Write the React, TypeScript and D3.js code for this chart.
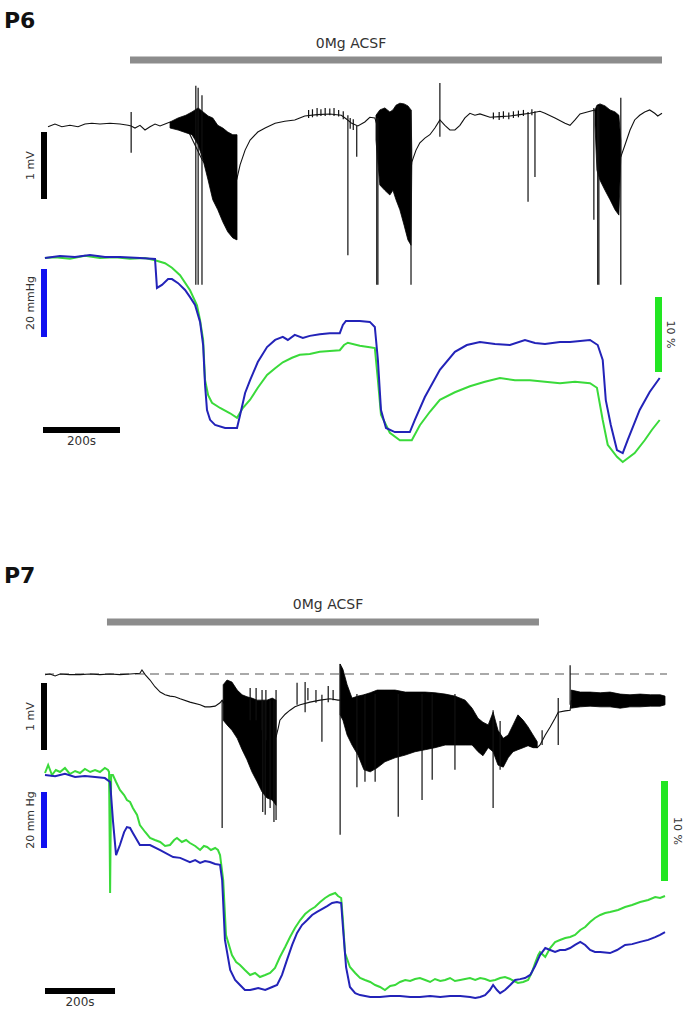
import React from 'react'
import * as d3 from 'd3'

const width = 695
const height = 1023

// ---------- P6 ----------
// time in s, EEG in mV, pO2 in mmHg (relative to baseline), sat in % (relative)
const p6Duration = 1608
const p6Acsf = [226, 1608]

const p6Eeg = [
    [13, -0.01], [31, 0.03], [49, -0.01], [70, 0.01], [91, -0.01], [109, 0.03], [127, 0.04],
    [148, 0.03], [174, 0.04], [200, 0.03], [221, 0.01], [229, 0], [239, -0.03], [252, 0.01],
    [265, -0.06], [278, -0.01], [291, 0.03], [304, 0], [317, 0.03], [330, 0.06], [371, 0.0],
    [413, -0.5], [454, -0.8], [493, -1.0], [504, -0.78], [512, -0.58], [525, -0.36],
    [538, -0.21], [558, -0.09], [577, -0.03], [603, 0.04], [628, 0.07], [654, 0.09],
    [667, 0.12], [680, 0.15], [712, 0.17], [745, 0.18], [775, 0.16], [789, 0.1], [802, 0.04],
    [818, 0.0], [836, 0.06], [849, 0.13], [862, 0.12], [900, -0.6], [950, -1.0], [958, -0.54],
    [969, -0.36], [979, -0.25], [992, -0.18], [1005, -0.13], [1018, -0.03], [1031, 0.09],
    [1044, 0.01], [1057, -0.06], [1070, -0.06], [1083, 0.01], [1096, 0.12], [1109, 0.19],
    [1122, 0.16], [1135, 0.18], [1161, 0.13], [1187, 0.14], [1213, 0.15], [1239, 0.17],
    [1265, 0.19], [1291, 0.22], [1304, 0.19], [1330, 0.12], [1356, 0.04], [1369, 0.01],
    [1382, 0.09], [1395, 0.18], [1421, 0.22], [1434, 0.24], [1460, -0.8], [1501, -0.46],
    [1512, -0.28], [1525, -0.06], [1537, 0.09], [1550, 0.16], [1563, 0.21], [1576, 0.24],
    [1589, 0.19], [1597, 0.15], [1608, 0.19],
]

// burst envelopes: [t, upper mV, lower mV]
const p6Bursts = [
    [
        [330, 0.06, -0.03], [351, 0.12, -0.06], [371, 0.16, -0.1], [387, 0.21, -0.13],
        [403, 0.27, -0.28], [416, 0.21, -0.51], [429, 0.15, -0.81], [441, 0.12, -1.1],
        [454, 0.01, -1.25], [467, -0.03, -1.43], [480, -0.09, -1.58], [493, -0.13, -1.67],
        [504, -0.13, -1.7],
    ],
    [
        [865, 0.16, -0.21], [875, 0.24, -0.88], [888, 0.27, -0.96], [901, 0.21, -1.03],
        [909, 0.24, -0.96], [917, 0.31, -1.1], [927, 0.34, -1.25], [938, 0.33, -1.48],
        [948, 0.3, -1.7], [956, 0.24, -1.78], [958, -0.36, -0.58],
    ],
    [
        [1434, 0.24, 0.01], [1439, 0.31, -0.66], [1447, 0.33, -0.81], [1460, 0.3, -0.96],
        [1473, 0.24, -1.1], [1486, 0.21, -1.25], [1496, 0.16, -1.33], [1501, -0.21, -0.46],
    ],
]

// single spikes: [t, top mV, bottom mV]
const p6Spikes = [
    [229, 0.21, -0.4], [397, 0.6, -2.37], [403, 0.57, -2.37], [413, 0.46, -2.37],
    [690, 0.24, 0.12], [700, 0.25, 0.13], [712, 0.27, 0.14], [722, 0.25, 0.15],
    [733, 0.27, 0.15], [745, 0.26, 0.16], [756, 0.27, 0.15], [768, 0.24, 0.14],
    [780, 0.22, 0.1], [798, 0.12, -0.04], [806, 0.1, -0.06],
    [792, 0.16, -1.93], [815, 0.0, -0.46], [867, 0.12, -2.37], [870, 0.12, -2.37],
    [956, 0.24, -2.37], [1031, 0.64, -0.16],
    [1170, 0.2, 0.1], [1185, 0.21, 0.09], [1196, 0.22, 0.11], [1210, 0.2, 0.1],
    [1222, 0.22, 0.12], [1235, 0.23, 0.13], [1248, 0.24, 0.15], [1270, 0.25, 0.16],
    [1260, 0.21, -1.13], [1278, 0.22, -0.76],
    [1431, 0.27, -1.4], [1441, 0.3, -2.37], [1444, 0.3, -2.37], [1501, 0.42, -2.37],
]

const p6PO2 = [
    [5, 0], [44, 0.6], [83, 0.3], [122, 0.9], [161, 0.3], [200, 0.3], [252, 0], [291, -0.3],
    [296, -8.8], [309, -7.9], [325, -6.2], [335, -6.2], [351, -7.4], [369, -9.4], [382, -11.5],
    [395, -13.8], [408, -18.8], [416, -25.6], [421, -37.4], [426, -44.7], [434, -47.6],
    [447, -49.1], [473, -50], [504, -50], [512, -46.2], [525, -39.7], [538, -35.9],
    [558, -30.6], [582, -26.2], [603, -24.1], [623, -23.2], [636, -24.1], [654, -22.6],
    [675, -23.5], [693, -22.9], [719, -22.4], [745, -22.1], [771, -22.1], [779, -19.7],
    [787, -18.5], [823, -18.5], [849, -18.8], [862, -20.3], [870, -30], [878, -44.7],
    [891, -50], [914, -51.2], [953, -51.2], [966, -47.6], [992, -40.9], [1031, -32.9],
    [1070, -27.6], [1101, -25.6], [1135, -24.7], [1174, -25.3], [1213, -25.6], [1252, -24.1],
    [1278, -25], [1304, -25.3], [1343, -24.7], [1369, -24.7], [1421, -24.1], [1441, -25.6],
    [1454, -30], [1462, -41.8], [1475, -49.1], [1491, -56.5], [1506, -57.4], [1519, -53.5],
    [1550, -44.7], [1576, -39.4], [1602, -35.3],
]

const p6Sat = [
    [5, 0], [31, 0.1], [70, -0.1], [109, 0.3], [148, 0], [187, 0.1], [226, -0.1], [265, 0],
    [291, -0.3], [317, -0.7], [335, -1.3], [356, -2.3], [382, -4.3], [400, -6.3], [408, -8.3],
    [416, -10.9], [421, -16.3], [429, -18.3], [439, -19.3], [460, -20], [486, -20.7],
    [504, -21.3], [519, -20], [538, -18.9], [558, -17.3], [582, -15.6], [603, -14.7],
    [623, -13.9], [647, -13.3], [667, -12.9], [693, -12.8], [719, -12.5], [745, -12.4],
    [771, -12.3], [782, -11.6], [792, -11.3], [823, -11.7], [849, -11.9], [862, -12],
    [870, -16.3], [878, -20.9], [901, -23.3], [927, -24.3], [958, -24.3], [979, -22.3],
    [1005, -20.5], [1031, -18.9], [1070, -17.9], [1109, -17.1], [1148, -16.5], [1187, -16],
    [1226, -16.3], [1265, -16.3], [1304, -16.5], [1343, -16.7], [1382, -16.5], [1421, -16.7],
    [1439, -17.3], [1454, -21.6], [1467, -24.9], [1491, -26.5], [1506, -27.2], [1537, -26],
    [1563, -24.3], [1582, -22.9], [1602, -21.6],
]

// ---------- P7 ----------
const p7Duration = 1771
const p7Acsf = [177, 1411]

const p7Eeg = [
    [0, -0.01], [14, 0], [29, -0.03], [43, 0], [71, -0.01], [100, -0.01], [129, 0], [157, -0.01],
    [186, 0], [214, -0.01], [243, 0], [271, 0.01], [277, 0.06], [286, -0.01], [300, -0.09],
    [314, -0.19], [329, -0.27], [343, -0.31], [357, -0.33], [371, -0.34], [386, -0.37],
    [414, -0.42], [443, -0.46], [457, -0.49], [471, -0.49], [486, -0.48], [500, -0.43],
    [506, -0.39], [580, -1.0], [660, -0.94], [666, -0.81], [671, -0.69], [686, -0.6],
    [700, -0.54], [714, -0.49], [729, -0.46], [757, -0.42], [786, -0.39], [814, -0.37],
    [837, -0.39], [843, -0.39], [1100, -0.7], [1406, -1.1], [1414, -1.06], [1429, -0.91],
    [1443, -0.79], [1457, -0.66], [1466, -0.57], [1486, -0.55], [1500, -0.54], [1503, -0.4],
    [1771, -0.37],
]

const p7Bursts = [
    [
        [509, -0.16, -0.69], [520, -0.09, -0.76], [534, -0.12, -0.84], [549, -0.24, -0.96],
        [563, -0.31, -1.13], [577, -0.34, -1.28], [591, -0.36, -1.46], [606, -0.39, -1.61],
        [620, -0.39, -1.76], [634, -0.39, -1.85], [649, -0.36, -1.88], [660, -0.39, -1.96],
    ],
    [
        [843, 0.15, -0.61], [851, 0.07, -0.69], [863, -0.16, -0.91], [877, -0.36, -1.06],
        [894, -0.33, -1.21], [911, -0.31, -1.43], [929, -0.28, -1.46], [949, -0.24, -1.4],
        [971, -0.24, -1.31], [1000, -0.24, -1.25], [1029, -0.27, -1.21], [1057, -0.27, -1.16],
        [1086, -0.27, -1.13], [1114, -0.28, -1.1], [1143, -0.3, -1.06], [1171, -0.33, -1.06],
        [1200, -0.39, -1.06], [1220, -0.51, -1.06], [1237, -0.66, -1.16], [1251, -0.72, -1.22],
        [1266, -0.76, -1.1], [1280, -0.57, -1.16], [1294, -0.84, -1.36], [1309, -0.96, -1.39],
        [1323, -0.91, -1.25], [1337, -0.76, -1.16], [1351, -0.61, -1.13], [1366, -0.69, -1.1],
        [1380, -0.79, -1.07], [1394, -0.91, -1.1], [1406, -1.01, -1.1],
    ],
    [
        [1503, -0.24, -0.51], [1529, -0.27, -0.49], [1557, -0.27, -0.48], [1586, -0.28, -0.49],
        [1614, -0.27, -0.49], [1643, -0.3, -0.51], [1671, -0.31, -0.49], [1700, -0.3, -0.49],
        [1729, -0.31, -0.48], [1757, -0.31, -0.48], [1771, -0.33, -0.46],
    ],
]

const p7Spikes = [
    [506, -0.39, -2.3], [586, -0.21, -0.69], [603, -0.21, -0.69], [620, -0.24, -0.84],
    [631, -0.24, -0.99], [622, -0.39, -2.06], [629, -0.39, -2.1], [643, -0.39, -2.0],
    [654, -0.39, -2.21], [660, -0.24, -2.18], [720, -0.13, -0.46], [743, -0.12, -0.57],
    [751, -0.21, -0.39], [774, -0.24, -0.43], [791, -0.31, -1.01], [809, -0.18, -0.42],
    [823, -0.24, -0.39], [843, 0.15, -2.4], [891, -0.3, -1.69], [914, -0.3, -1.61],
    [943, -0.3, -1.61], [1009, -0.3, -2.13], [1077, -0.3, -1.88], [1106, -0.3, -1.58],
    [1171, -0.3, -1.43], [1280, -0.54, -2.0], [1300, -0.7, -1.43], [1420, -0.84, -1.06],
    [1466, -0.36, -1.06], [1500, 0.13, -0.46],
]

const p7PO2 = [
    [0, 0], [29, -0.4], [57, 0.4], [86, -0.7], [114, -0.4], [143, -0.7], [171, -1.1],
    [186, -2.5], [194, -16.1], [203, -28.6], [214, -25], [226, -20.4], [234, -18.6],
    [243, -18.9], [251, -20.7], [271, -25], [300, -25], [329, -26.8], [366, -29.3],
    [386, -29.6], [414, -31.1], [429, -30.4], [443, -31.4], [457, -30.7], [471, -31.1],
    [486, -31.8], [500, -32.1], [506, -37.5], [514, -58.9], [529, -69.6], [543, -73.2],
    [557, -75], [571, -76.8], [586, -76.8], [609, -76.1], [629, -76.8], [649, -75.7],
    [663, -75], [677, -71.4], [691, -66.1], [706, -60.7], [720, -56.4], [734, -53.6],
    [749, -51.8], [763, -50], [777, -48.9], [791, -47.9], [806, -46.8], [820, -45.7],
    [834, -45.4], [846, -45.7], [851, -54.3], [860, -68.6], [871, -75.7], [886, -77.9],
    [900, -78.6], [929, -79.3], [957, -79.3], [986, -78.9], [1014, -78.9], [1043, -79.3],
    [1071, -79.3], [1100, -78.9], [1129, -79.3], [1157, -78.9], [1186, -78.9], [1214, -79.3],
    [1229, -79.6], [1243, -79.3], [1257, -78.6], [1271, -76.8], [1280, -75], [1291, -76.8],
    [1300, -77.9], [1314, -76.8], [1329, -75], [1343, -73.2], [1357, -72.9], [1371, -72.5],
    [1386, -71.4], [1400, -68.2], [1414, -64.3], [1429, -61.8], [1443, -62.5], [1457, -63.2],
    [1471, -62.5], [1486, -62.5], [1500, -61.8], [1514, -60.7], [1529, -59.6], [1543, -60.7],
    [1557, -62.5], [1571, -63.2], [1586, -63.2], [1614, -63.6], [1634, -62.5], [1657, -60.7],
    [1677, -60.4], [1700, -59.6], [1723, -58.9], [1743, -57.9], [1757, -57.1], [1771, -56.1],
]

const p7Sat = [
    [0, 0], [9, 0.8], [20, -0.2], [31, 0.3], [43, 0.1], [57, 0.5], [71, -0.1], [86, 0.2],
    [100, 0], [114, 0.4], [129, 0.1], [143, 0.3], [157, 0.1], [171, 0.5], [180, 0.3],
    [183, 0.1], [186, -12], [189, -0.2], [194, -0.2], [203, -0.9], [214, -1.7], [226, -2.2],
    [234, -2.7], [243, -2.9], [251, -3.5], [263, -4.2], [271, -5.2], [286, -5.9], [300, -6.5],
    [314, -6.7], [329, -6.9], [343, -7.3], [357, -7.2], [369, -6.7], [377, -6.5], [391, -6.9],
    [403, -6.7], [414, -7], [429, -7.3], [443, -7.7], [454, -7.3], [463, -7.4], [474, -7.7],
    [486, -7.5], [494, -7.7], [500, -8.2], [509, -10.7], [517, -16.2], [534, -18.2],
    [546, -18.9], [557, -19.2], [571, -19.7], [586, -20.2], [600, -20], [614, -20.4],
    [629, -20.2], [643, -20], [657, -19.5], [671, -18.4], [686, -17.4], [700, -16.4],
    [714, -15.5], [729, -14.7], [743, -14.1], [757, -13.7], [771, -13.4], [786, -12.9],
    [800, -12.5], [814, -12.2], [829, -12], [837, -12.3], [846, -12.5], [851, -14.7],
    [857, -18], [871, -19.4], [886, -20], [900, -20.5], [914, -20.7], [929, -20.9],
    [943, -21.2], [957, -21.4], [971, -21.7], [986, -21.3], [1000, -21.2], [1014, -20.9],
    [1029, -20.7], [1043, -20.8], [1057, -20.6], [1071, -20.5], [1086, -20.7], [1100, -20.9],
    [1114, -20.6], [1129, -20.8], [1143, -20.7], [1157, -20.5], [1171, -20.8], [1186, -20.7],
    [1200, -20.6], [1214, -20.5], [1229, -20.7], [1243, -20.5], [1257, -20.6], [1271, -20.8],
    [1286, -20.7], [1300, -20.5], [1314, -20.4], [1329, -20.6], [1334, -20.7], [1351, -21],
    [1366, -20.9], [1380, -20.7], [1391, -19.9], [1400, -19], [1409, -18.2], [1414, -17.9],
    [1423, -18.2], [1429, -18.4], [1443, -17.5], [1457, -16.9], [1471, -16.7], [1486, -16.5],
    [1500, -16.4], [1514, -16.2], [1529, -15.7], [1543, -15.4], [1557, -14.9], [1571, -14.5],
    [1586, -14.2], [1600, -14], [1614, -13.9], [1637, -13.7], [1657, -13.4], [1677, -13.2],
    [1700, -12.9], [1723, -12.7], [1743, -12.4], [1757, -12.5], [1771, -12.3],
]

// layout of each panel (pixels)
const panels = [
    {
        title: 'P6', titleY: 28, duration: p6Duration, acsf: p6Acsf, x0: 43, x1: 662,
        labelX: 351, labelY: 48, barY: 60,
        eeg0: 126, mvPx: 67, mvBarTop: 132,
        po20: 258, mmHgPx: 3.4, blueBarTop: 269,
        sat0: 258, pctPx: 7.5, greenBarTop: 297, greenBarX: 659, greenLabelX: 667,
        timeBarY: 430, mmHgLabel: '20 mmHg', dashed: false,
        eeg: p6Eeg, bursts: p6Bursts, spikes: p6Spikes, po2: p6PO2, sat: p6Sat,
    },
    {
        title: 'P7', titleY: 583, duration: p7Duration, acsf: p7Acsf, x0: 45, x1: 665,
        labelX: 328, labelY: 609, barY: 622,
        eeg0: 674, mvPx: 67, mvBarTop: 683,
        po20: 775, mmHgPx: 2.8, blueBarTop: 792,
        sat0: 773, pctPx: 10, greenBarTop: 781, greenBarX: 665, greenLabelX: 674,
        timeBarY: 991, mmHgLabel: '20 mm Hg', dashed: true,
        eeg: p7Eeg, bursts: p7Bursts, spikes: p7Spikes, po2: p7PO2, sat: p7Sat,
    },
]

const font = 'DejaVu Sans, sans-serif'
const blue = '#2323b8'
const green = '#3ada3a'

function Panel({ p }) {
    const x = d3.scaleLinear().domain([0, p.duration]).range([p.x0, p.x1])
    const yE = d3.scaleLinear().domain([0, 1]).range([p.eeg0, p.eeg0 - p.mvPx])
    const yB = d3.scaleLinear().domain([0, -20]).range([p.po20, p.po20 + 20 * p.mmHgPx])
    const yG = d3.scaleLinear().domain([0, -10]).range([p.sat0, p.sat0 + 10 * p.pctPx])

    const eegLine = d3.line().x((d) => x(d[0])).y((d) => yE(d[1]))
    const burstArea = d3
        .area()
        .x((d) => x(d[0]))
        .y0((d) => yE(d[2]))
        .y1((d) => yE(d[1]))
    const blueLine = d3.line().x((d) => x(d[0])).y((d) => yB(d[1]))
    const greenLine = d3.line().x((d) => x(d[0])).y((d) => yG(d[1]))

    const mvLen = yE(0) - yE(1)
    const mmLen = yB(-20) - yB(0)
    const pctLen = yG(-10) - yG(0)
    const secLen = x(200) - x(0)

    return (
        <g>
            <text x={4} y={p.titleY} fontFamily={font} fontWeight="bold" fontSize={22} fill="#111">
                {p.title}
            </text>
            <text x={p.labelX} y={p.labelY} fontFamily={font} fontSize={14} fill="#333" textAnchor="middle">
                0Mg ACSF
            </text>
            <line
                x1={x(p.acsf[0])}
                x2={x(p.acsf[1])}
                y1={p.barY}
                y2={p.barY}
                stroke="#8c8c8c"
                strokeWidth={7}
            />

            {p.dashed && (
                <line
                    x1={x(0)}
                    x2={x(p.duration) + 2}
                    y1={yE(0)}
                    y2={yE(0)}
                    stroke="#555"
                    strokeWidth={1.2}
                    strokeDasharray="9,6"
                />
            )}

            {/* EEG */}
            <path d={eegLine(p.eeg)} fill="none" stroke="#111" strokeWidth={1.1} />
            {p.bursts.map((b, i) => (
                <path key={i} d={burstArea(b)} fill="#000" stroke="#000" strokeWidth={0.8} />
            ))}
            {p.spikes.map((s, i) => (
                <line
                    key={i}
                    x1={x(s[0])}
                    x2={x(s[0])}
                    y1={yE(s[1])}
                    y2={yE(s[2])}
                    stroke="#111"
                    strokeWidth={1.2}
                />
            ))}

            {/* oxygen */}
            <path d={greenLine(p.sat)} fill="none" stroke={green} strokeWidth={2} />
            <path d={blueLine(p.po2)} fill="none" stroke={blue} strokeWidth={2} />

            {/* scale bars */}
            <rect x={41} y={p.mvBarTop} width={6} height={mvLen} fill="#000" />
            <text
                transform={`translate(34,${p.mvBarTop + mvLen / 2}) rotate(-90)`}
                fontFamily={font}
                fontSize={11}
                fill="#333"
                textAnchor="middle"
            >
                1 mV
            </text>
            <rect x={41} y={p.blueBarTop} width={6} height={mmLen} fill="#1010f0" />
            <text
                transform={`translate(34,${p.blueBarTop + mmLen / 2}) rotate(-90)`}
                fontFamily={font}
                fontSize={11}
                fill="#333"
                textAnchor="middle"
            >
                {p.mmHgLabel}
            </text>
            <rect x={p.greenBarX - 4} y={p.greenBarTop} width={7} height={pctLen} fill="#22e622" />
            <text
                transform={`translate(${p.greenLabelX},${p.greenBarTop + pctLen / 2}) rotate(90)`}
                fontFamily={font}
                fontSize={11}
                fill="#333"
                textAnchor="middle"
            >
                10 %
            </text>
            <rect x={x(0)} y={p.timeBarY - 3} width={secLen} height={6} fill="#000" />
            <text
                x={x(0) + secLen / 2}
                y={p.timeBarY + 15}
                fontFamily={font}
                fontSize={12}
                fill="#333"
                textAnchor="middle"
            >
                200s
            </text>
        </g>
    )
}

export default function App() {
    return (
        <svg
            width={width}
            height={height}
            style={{ position: 'absolute', left: 0, top: 0, background: '#fff' }}
        >
            {panels.map((p) => (
                <Panel key={p.title} p={p} />
            ))}
        </svg>
    )
}
